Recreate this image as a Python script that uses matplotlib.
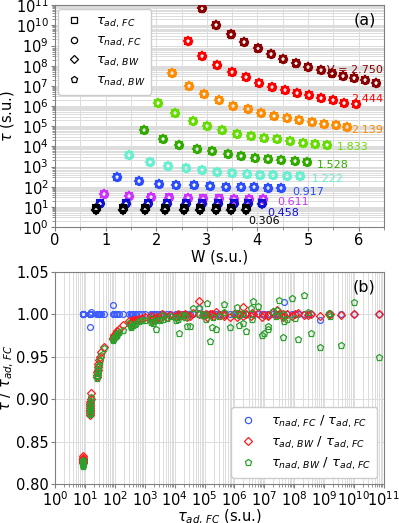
import numpy as np
import matplotlib
matplotlib.use('Agg')
import matplotlib.pyplot as plt
from matplotlib.lines import Line2D
from matplotlib.ticker import MultipleLocator, LogLocator, NullFormatter, FormatStrFormatter

# ---------------- data ----------------
V_labels = ['V = 2.750', '2.444', '2.139', '1.833', '1.528', '1.222', '0.917', '0.611', '0.458', '0.306']
V_colors = ['#8b0000', '#ff0000', '#ff8c00', '#66dd00', '#33aa00', '#66f0d0', '#2b4cff', '#cc33ff', '#1010d0', '#000000']

W_2750 = [2.91, 3.19, 3.48, 3.74, 4.02, 4.27, 4.51, 4.76, 5.00, 5.26, 5.47, 5.69, 5.91, 6.12, 6.34]
lt_2750 = [10.84, 10.00, 9.56, 9.16, 8.86, 8.57, 8.32, 8.12, 7.92, 7.77, 7.62, 7.48, 7.38, 7.28, 7.13]
nadFC_2750 = [1.000, 1.000, 1.000, 1.000, 0.993, 1.000, 1.000, 1.000, 1.000, 1.000, 1.000, 1.000, 1.000, 1.000, 1.000]
adBW_2750 = [1.000, 1.000, 0.999, 1.000, 0.998, 1.001, 0.999, 1.002, 0.998, 1.000, 0.997, 1.001, 0.999, 1.003, 0.998]
nadBW_2750 = [0.950, 1.015, 0.964, 1.002, 0.962, 0.978, 1.023, 0.971, 1.019, 0.995, 0.974, 1.017, 0.998, 1.004, 0.986]

W_2444 = [2.62, 2.91, 3.21, 3.50, 3.78, 4.04, 4.29, 4.55, 4.78, 5.02, 5.26, 5.49, 5.71, 5.94]
lt_2444 = [9.21, 8.47, 8.02, 7.67, 7.43, 7.13, 6.93, 6.78, 6.63, 6.54, 6.39, 6.29, 6.14, 6.09]
nadFC_2444 = [1.000, 1.000, 1.000, 1.015, 1.000, 1.000, 1.000, 1.000, 1.000, 1.000, 1.000, 1.000, 1.000, 1.000]
adBW_2444 = [1.000, 0.999, 1.001, 0.998, 1.005, 0.999, 0.997, 1.002, 1.000, 0.998, 1.001, 1.009, 0.999, 0.997]
nadBW_2444 = [0.998, 1.003, 0.996, 0.992, 1.005, 0.983, 0.976, 1.010, 1.016, 1.007, 0.980, 0.990, 0.988, 1.009]

W_2139 = [2.32, 2.64, 2.95, 3.25, 3.52, 3.82, 4.07, 4.33, 4.59, 4.82, 5.08, 5.31, 5.55, 5.77]
lt_2139 = [7.62, 6.98, 6.59, 6.29, 5.99, 5.84, 5.64, 5.50, 5.40, 5.30, 5.20, 5.10, 5.05, 4.95]
nadFC_2139 = [1.000, 1.000, 1.000, 1.000, 1.000, 1.000, 1.000, 1.000, 1.000, 1.000, 1.000, 1.000, 1.000, 1.000]
adBW_2139 = [1.000, 0.999, 1.002, 0.998, 1.000, 0.997, 1.001, 0.999, 1.003, 0.998, 1.000, 0.997, 1.001, 0.999]
nadBW_2139 = [1.000, 0.978, 0.995, 1.002, 1.001, 0.985, 1.012, 0.998, 0.983, 0.997, 0.969, 1.013, 0.995, 0.999]

W_1833 = [2.03, 2.38, 2.72, 3.01, 3.31, 3.60, 3.88, 4.13, 4.39, 4.65, 4.90, 5.14, 5.37]
lt_1833 = [6.14, 5.64, 5.25, 5.00, 4.80, 4.60, 4.51, 4.41, 4.36, 4.26, 4.16, 4.11, 4.06]
nadFC_1833 = [1.000, 1.000, 1.000, 1.000, 1.007, 1.000, 1.000, 1.000, 1.000, 1.000, 1.000, 1.000, 1.000]
adBW_1833 = [1.000, 0.998, 1.001, 0.999, 1.016, 1.002, 0.998, 0.997, 1.000, 0.999, 0.998, 1.001, 0.997]
nadBW_1833 = [0.999, 1.003, 0.985, 1.001, 1.008, 1.007, 0.986, 0.986, 0.997, 0.999, 0.978, 0.995, 0.993]

W_1528 = [1.75, 2.13, 2.46, 2.80, 3.11, 3.41, 3.68, 3.96, 4.21, 4.47, 4.74, 4.98]
lt_1528 = [4.80, 4.36, 4.06, 3.86, 3.76, 3.61, 3.52, 3.42, 3.37, 3.32, 3.27, 3.22]
nadFC_1528 = [1.000, 1.000, 1.000, 1.000, 1.000, 1.000, 1.000, 1.000, 1.000, 1.000, 1.000, 1.000]
adBW_1528 = [1.000, 0.999, 0.998, 0.999, 0.997, 0.998, 0.996, 0.997, 0.995, 0.996, 0.995, 0.994]
nadBW_1528 = [1.000, 0.999, 0.997, 0.998, 0.996, 0.995, 0.994, 0.993, 0.983, 0.992, 0.990, 0.991]

W_1222 = [1.46, 1.87, 2.24, 2.58, 2.91, 3.21, 3.50, 3.80, 4.06, 4.31, 4.59, 4.84]
lt_1222 = [3.57, 3.22, 3.02, 2.92, 2.82, 2.72, 2.67, 2.62, 2.58, 2.58, 2.53, 2.53]
nadFC_1222 = [1.000, 1.000, 1.000, 1.000, 1.000, 1.000, 1.000, 1.000, 1.000, 1.000, 1.000, 1.000]
adBW_1222 = [1.000, 0.998, 0.997, 0.996, 0.995, 0.994, 0.993, 0.993, 0.992, 0.991, 0.990, 0.990]
nadBW_1222 = [0.999, 0.996, 0.994, 0.993, 0.992, 0.990, 0.989, 0.988, 0.988, 0.987, 0.986, 0.985]

W_0917 = [1.22, 1.65, 2.05, 2.40, 2.74, 3.07, 3.37, 3.68, 3.94, 4.21, 4.47]
lt_0917 = [2.48, 2.28, 2.13, 2.08, 2.08, 2.03, 1.98, 1.98, 1.98, 1.93, 1.93]
nadFC_0917 = [1.000, 1.000, 1.000, 1.000, 1.000, 1.000, 1.000, 1.000, 1.000, 1.000, 1.011]
adBW_0917 = [0.992, 0.987, 0.983, 0.981, 0.980, 0.978, 0.976, 0.975, 0.974, 0.972, 0.971]
nadBW_0917 = [0.990, 0.982, 0.979, 0.978, 0.976, 0.975, 0.974, 0.973, 0.972, 0.971, 0.970]

W_0611 = [0.96, 1.46, 1.89, 2.26, 2.62, 2.93, 3.25, 3.54, 3.84, 4.11]
lt_0611 = [1.63, 1.55, 1.50, 1.47, 1.45, 1.43, 1.42, 1.41, 1.40, 1.40]
nadFC_0611 = [1.000, 1.000, 1.000, 1.000, 1.000, 1.000, 1.000, 1.000, 1.000, 1.000]
adBW_0611 = [0.962, 0.956, 0.950, 0.946, 0.942, 0.938, 0.935, 0.932, 0.929, 0.926]
nadBW_0611 = [0.960, 0.952, 0.946, 0.941, 0.938, 0.934, 0.931, 0.929, 0.927, 0.925]

W_0458 = [0.88, 1.40, 1.83, 2.22, 2.58, 2.91, 3.23, 3.53, 3.82, 4.09]
lt_0458 = [1.19, 1.19, 1.18, 1.18, 1.18, 1.18, 1.18, 1.18, 1.18, 1.18]
nadFC_0458 = [1.003, 1.000, 0.985, 1.000, 1.000, 1.000, 1.000, 1.000, 1.000, 1.000]
adBW_0458 = [0.907, 0.900, 0.897, 0.894, 0.892, 0.890, 0.888, 0.886, 0.884, 0.882]
nadBW_0458 = [0.903, 0.898, 0.895, 0.892, 0.890, 0.888, 0.887, 0.885, 0.884, 0.883]

W_0306 = [0.81, 1.34, 1.77, 2.17, 2.54, 2.87, 3.19, 3.48, 3.78]
lt_0306 = [0.92, 0.92, 0.93, 0.93, 0.93, 0.93, 0.93, 0.93, 0.93]
nadFC_0306 = [1.000, 1.000, 1.000, 1.000, 1.000, 1.000, 1.000, 1.000, 1.000]
adBW_0306 = [0.833, 0.831, 0.830, 0.829, 0.828, 0.828, 0.827, 0.826, 0.825]
nadBW_0306 = [0.829, 0.828, 0.827, 0.826, 0.825, 0.825, 0.824, 0.823, 0.822]

W_all = [W_2750, W_2444, W_2139, W_1833, W_1528, W_1222, W_0917, W_0611, W_0458, W_0306]
lt_all = [lt_2750, lt_2444, lt_2139, lt_1833, lt_1528, lt_1222, lt_0917, lt_0611, lt_0458, lt_0306]
nadFC_all = [nadFC_2750, nadFC_2444, nadFC_2139, nadFC_1833, nadFC_1528, nadFC_1222, nadFC_0917, nadFC_0611, nadFC_0458, nadFC_0306]
adBW_all = [adBW_2750, adBW_2444, adBW_2139, adBW_1833, adBW_1528, adBW_1222, adBW_0917, adBW_0611, adBW_0458, adBW_0306]
nadBW_all = [nadBW_2750, nadBW_2444, nadBW_2139, nadBW_1833, nadBW_1528, nadBW_1222, nadBW_0917, nadBW_0611, nadBW_0458, nadBW_0306]

# label anchor (W, log10 tau) and alignment
lab_W = [6.48, 6.48, 6.48, 5.57, 5.18, 5.08, 4.69, 4.39, 4.19, 3.82]
lab_lt = [7.80, 6.34, 4.80, 3.96, 3.07, 2.38, 1.76, 1.22, 0.69, 0.28]
lab_ha = ['right', 'right', 'right', 'left', 'left', 'left', 'left', 'left', 'left', 'left']

# ---------------- figure ----------------
plt.rcParams['font.family'] = ['DejaVu Sans']
plt.rcParams['mathtext.fontset'] = 'dejavusans'
fig = plt.figure(figsize=(3.99, 5.23), dpi=100)
axA = fig.add_axes([0.138, 0.566, 0.824, 0.424])
axB = fig.add_axes([0.138, 0.074, 0.824, 0.406])

spine_col = '#808080'
grid_col = '#dcdcdc'
tick_fs = 10.5

# ---- panel (a) ----
for i in range(len(W_all)):
    W = np.array(W_all[i])
    tau = 10 ** np.array(lt_all[i])
    c = V_colors[i]
    kw = dict(ls='none', mfc='none', mec=c, mew=1.5, zorder=3)
    axA.plot(W, tau, marker='s', ms=4.4, **kw)
    axA.plot(W, tau * np.array(nadFC_all[i]), marker='o', ms=5.0, **kw)
    axA.plot(W, tau * np.array(adBW_all[i]), marker='D', ms=4.4, **kw)
    axA.plot(W, tau * np.array(nadBW_all[i]), marker='p', ms=5.2, **kw)
    axA.text(lab_W[i], 10 ** lab_lt[i], V_labels[i], color=c, fontsize=8,
             ha=lab_ha[i], va='center', zorder=4)

axA.set_yscale('log')
axA.set_xlim(0, 6.5)
axA.set_ylim(1, 1e11)
axA.xaxis.set_major_locator(MultipleLocator(1))
axA.xaxis.set_minor_locator(MultipleLocator(0.5))
axA.yaxis.set_major_locator(LogLocator(base=10, numticks=20))
axA.yaxis.set_minor_locator(LogLocator(base=10, subs=np.arange(2, 10), numticks=200))
axA.yaxis.set_minor_formatter(NullFormatter())
axA.grid(which='both', color=grid_col, lw=0.7, zorder=0)
axA.set_axisbelow(True)
axA.tick_params(labelsize=tick_fs, color=spine_col, pad=1.5, length=3)
axA.tick_params(which='minor', color=spine_col, length=2)
axA.set_xlabel('W (s.u.)', fontsize=10.5, labelpad=1)
axA.set_ylabel(r'$\tau$ (s.u.)', fontsize=10.5, labelpad=0)
for s in axA.spines.values():
    s.set_color(spine_col)
axA.text(0.975, 0.965, '(a)', transform=axA.transAxes, ha='right', va='top', fontsize=11.5)

hA = [Line2D([], [], ls='none', marker=m, mfc='none', mec='k', mew=0.9, ms=ms)
      for m, ms in [('s', 4.5), ('o', 4.5), ('D', 4.5), ('p', 4.5)]]
labA = [r'$\tau_{ad,\,FC}$', r'$\tau_{nad,\,FC}$', r'$\tau_{ad,\,BW}$', r'$\tau_{nad,\,BW}$']
axA.legend(hA, labA, loc='upper left', fontsize=9.5, handlelength=1.4,
           handletextpad=1.0, borderpad=0.45, labelspacing=0.35, borderaxespad=0.25,
           framealpha=1.0, edgecolor='#cccccc')

# ---- panel (b) ----
x_all = np.concatenate([10 ** np.array(l) for l in lt_all])
r_nadFC = np.concatenate([np.array(r) for r in nadFC_all])
r_adBW = np.concatenate([np.array(r) for r in adBW_all])
r_nadBW = np.concatenate([np.array(r) for r in nadBW_all])

c_blue = '#3d5cff'
c_red = '#ff1a1a'
c_green = '#2ca02c'
axB.plot(x_all, r_nadFC, ls='none', marker='o', ms=4.2, mfc='none', mec=c_blue, mew=0.9, zorder=3)
axB.plot(x_all, r_adBW, ls='none', marker='D', ms=4.2, mfc='none', mec=c_red, mew=0.9, zorder=4)
axB.plot(x_all, r_nadBW, ls='none', marker='p', ms=4.6, mfc='none', mec=c_green, mew=0.9, zorder=5)

axB.set_xscale('log')
axB.set_xlim(1, 1e11)
axB.set_ylim(0.80, 1.05)
axB.xaxis.set_major_locator(LogLocator(base=10, numticks=20))
axB.xaxis.set_minor_locator(LogLocator(base=10, subs=np.arange(2, 10), numticks=200))
axB.xaxis.set_minor_formatter(NullFormatter())
axB.yaxis.set_major_locator(MultipleLocator(0.05))
axB.yaxis.set_major_formatter(FormatStrFormatter('%.2f'))
axB.grid(which='both', axis='x', color=grid_col, lw=0.7, zorder=0)
axB.grid(which='major', axis='y', color=grid_col, lw=0.7, zorder=0)
axB.set_axisbelow(True)
axB.tick_params(labelsize=tick_fs, color=spine_col, pad=1.5, length=3)
axB.tick_params(which='minor', color=spine_col, length=2)
axB.set_xlabel(r'$\tau_{ad,\,FC}$ (s.u.)', fontsize=10.5, labelpad=-1)
axB.set_ylabel(r'$\tau\ /\ \tau_{ad,\,FC}$', fontsize=10.5, labelpad=0)
for s in axB.spines.values():
    s.set_color(spine_col)
axB.text(0.975, 0.965, '(b)', transform=axB.transAxes, ha='right', va='top', fontsize=11.5)

hB = [Line2D([], [], ls='none', marker='o', mfc='none', mec=c_blue, mew=0.9, ms=4.5),
      Line2D([], [], ls='none', marker='D', mfc='none', mec=c_red, mew=0.9, ms=4.5),
      Line2D([], [], ls='none', marker='p', mfc='none', mec=c_green, mew=0.9, ms=4.8)]
labB = [r'$\tau_{nad,\,FC}$ / $\tau_{ad,\,FC}$',
        r'$\tau_{ad,\,BW}$ / $\tau_{ad,\,FC}$',
        r'$\tau_{nad,\,BW}$ / $\tau_{ad,\,FC}$']
axB.legend(hB, labB, loc='lower right', fontsize=9.5, handlelength=1.6,
           handletextpad=1.0, borderpad=0.45, labelspacing=0.35,
           framealpha=1.0, edgecolor='#cccccc')

fig.savefig('out.png', dpi=100)
